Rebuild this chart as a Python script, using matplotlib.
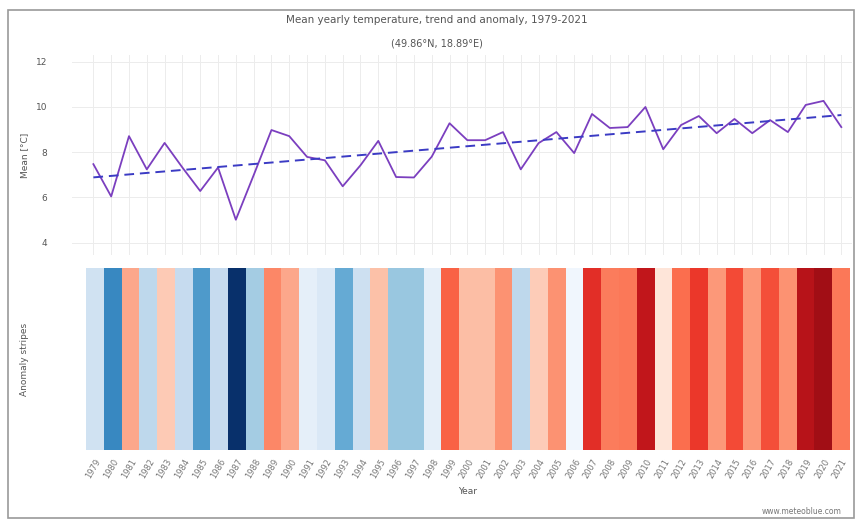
import matplotlib
matplotlib.use("Agg")
import matplotlib.pyplot as plt
import matplotlib.colors as colors
from matplotlib.patches import Rectangle
import numpy as np

# yearly mean temperature
years = list(range(1979, 2022))
temps = [7.47, 6.04, 8.71, 7.24, 8.41, 7.32, 6.28, 7.32, 5.01, 6.98,
         8.98, 8.71, 7.79, 7.64, 6.49, 7.42, 8.50, 6.90, 6.88, 7.80,
         9.28, 8.53, 8.53, 8.89, 7.24, 8.40, 8.89, 7.96, 9.69, 9.07,
         9.11, 10.00, 8.13, 9.20, 9.60, 8.84, 9.47, 8.84, 9.42, 8.89,
         10.09, 10.27, 9.11]
yticks = [4, 6, 8, 10, 12]
baseline = 8.0  # reference value for the anomaly stripes

title = 'Mean yearly temperature, trend and anomaly, 1979-2021'
subtitle = '(49.86°N, 18.89°E)'

W, H = 855, 519
text_col = '#555555'

def box(l, t, r, b):
    return [l / W, 1 - b / H, (r - l) / W, (b - t) / H]

yrs = np.array(years)
tv = np.array(temps)

# linear trend
k, q = np.polyfit(yrs, tv, 1)
trend = k * yrs + q

fig = plt.figure(figsize=(W / 100, H / 100), dpi=100)

# outer frame
fig.add_artist(Rectangle((8 / W, 1 / H), 846 / W, 508 / H, transform=fig.transFigure,
                         fill=False, ec='#9a9a9a', lw=1.2))

fig.text(0.511, 1 - 20 / H, title, ha='center', va='center', fontsize=7.5, color=text_col)
fig.text(0.511, 1 - 43 / H, subtitle, ha='center', va='center', fontsize=7, color=text_col)

# upper panel: temperature line and trend
ax1 = fig.add_axes(box(72, 55, 852, 255))
ax1.plot(yrs, tv, color='#7b3fbf', lw=1.3)
ax1.plot(yrs, trend, color='#3b3bc4', lw=1.4, ls=(0, (5, 3)))
ax1.set_xlim(1977.8, 2021.6)
ax1.set_ylim(3.45, 12.3)
ax1.set_yticks(yticks)
ax1.set_yticklabels([str(v) for v in yticks], fontsize=6.5, color=text_col)
ax1.set_xticks(years)
ax1.tick_params(axis='x', length=0, labelbottom=False)
ax1.tick_params(axis='y', length=0, pad=18)
ax1.grid(True, color='#ececec', lw=0.7)
ax1.set_axisbelow(True)
for s in ax1.spines.values():
    s.set_visible(False)
ax1.set_ylabel('Mean [°C]', fontsize=6.5, color=text_col)
ax1.yaxis.set_label_coords(-0.055, 0.5)

# lower panel: anomaly stripes
base = np.vstack([plt.cm.Blues_r(np.linspace(0, 0.97, 128)),
                  plt.cm.Reds(np.linspace(0.05, 0.88, 128))])
cmap = colors.ListedColormap(base)
norm = colors.TwoSlopeNorm(vmin=tv.min(), vcenter=baseline, vmax=tv.max())

ax2 = fig.add_axes(box(86, 268, 850, 450))
ax2.bar(yrs, 1, width=1.0, color=cmap(norm(tv)), edgecolor='none')
ax2.set_xlim(1978.5, 2021.5)
ax2.set_ylim(0, 1)
ax2.set_yticks([])
ax2.set_xticks(years)
ax2.set_xticklabels([str(y) for y in years], rotation=60, fontsize=6, color='#777777',
                    ha='right', rotation_mode='anchor')
ax2.tick_params(axis='x', length=0, pad=5)
for s in ax2.spines.values():
    s.set_visible(False)
ax2.set_ylabel('Anomaly stripes', fontsize=6.5, color=text_col)
ax2.yaxis.set_label_coords(-0.075, 0.5)
ax2.set_xlabel('Year', fontsize=6.5, color=text_col, labelpad=5)

fig.text(842 / W, 1 - 512 / H, 'www.meteoblue.com', ha='right', va='center',
         fontsize=5.5, color='#777777')

fig.savefig('out.png', dpi=100, facecolor='white')
